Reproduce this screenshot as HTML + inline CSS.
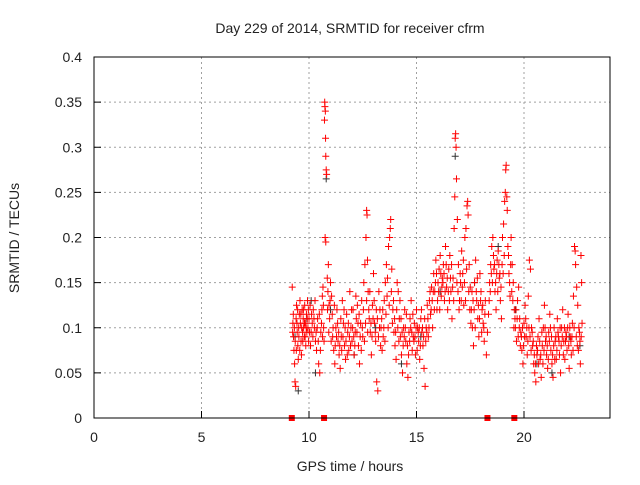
<!DOCTYPE html>
<html><head><meta charset="utf-8"><style>
body{margin:0;background:#fff}
svg text{font-family:"Liberation Sans",sans-serif;font-size:14px;fill:#222}
</style></head><body>
<svg id="chart" width="640" height="480" xmlns="http://www.w3.org/2000/svg">
<rect width="640" height="480" fill="#fff"/>
<text x="350" y="33" text-anchor="middle">Day 229 of 2014, SRMTID for receiver cfrm</text>
<g id="grid"></g>
<g id="ticks"></g>
<g id="marks"></g>
<rect x="94" y="57" width="516" height="361" fill="none" stroke="#000" stroke-width="1"/>
<text x="350" y="471" text-anchor="middle">GPS time / hours</text>
<text x="0" y="0" transform="translate(19,238) rotate(-90)" text-anchor="middle">SRMTID / TECUs</text>
</svg>
<script>
const xTicks=[0,5,10,15,20];
const yTicks=[0,0.05,0.1,0.15,0.2,0.25,0.3,0.35,0.4];
const yTickLabels=["0","0.05","0.1","0.15","0.2","0.25","0.3","0.35","0.4"];
const gapTimes=[9.2,10.7,18.3,19.55];
const blackPoints=[[9.35,0.09],[9.5,0.03],[9.9,0.11],[10.1,0.13],[10.3,0.05],[10.8,0.265],[11.0,0.12],[12.1,0.07],[13.1,0.1],[14.3,0.06],[15.2,0.09],[16.1,0.14],[16.8,0.29],[17.7,0.15],[18.8,0.19],[19.6,0.12],[20.6,0.06],[21.3,0.05],[22.1,0.09],[22.6,0.08]];
const redPoints=[
[9.22,0.145],[9.25,0.105],[9.28,0.09],[9.3,0.075],[9.33,0.06],[9.35,0.04],[9.38,0.035],[9.4,0.11],[9.42,0.125],[9.45,0.095],[9.48,0.08],[9.5,0.065],[9.52,0.1],[9.55,0.115],[9.58,0.13],[9.6,0.105],[9.63,0.085],[9.65,0.07],[9.68,0.12],[9.7,0.095],[9.73,0.11],[9.75,0.1],[9.78,0.09],[9.8,0.125],[9.83,0.105],[9.85,0.08],[9.88,0.115],[9.9,0.095],[9.93,0.13],[9.95,0.1],[9.98,0.085],[10.0,0.11],[10.05,0.125],[10.1,0.095],[10.15,0.105],[10.2,0.12],[10.25,0.1],[10.3,0.085],[10.35,0.075],[10.4,0.11],[10.45,0.06],[10.5,0.05],[10.55,0.095],[10.6,0.12],[10.62,0.135],[10.65,0.145],[10.68,0.1],[10.7,0.085],
[10.72,0.33],[10.73,0.35],[10.74,0.345],[10.76,0.34],[10.77,0.31],[10.78,0.29],[10.8,0.275],[10.82,0.27],[10.75,0.2],[10.78,0.195],[10.85,0.155],[10.88,0.14],[10.9,0.17],[10.93,0.125],[10.96,0.11],[11.0,0.15],[11.05,0.135],[11.1,0.09],[11.15,0.075],[11.2,0.06],[11.25,0.1],[11.3,0.12],[11.35,0.085],[11.4,0.07],[11.45,0.055],[11.5,0.09],[11.55,0.13],[11.6,0.105],[11.65,0.08],[11.7,0.065],[11.75,0.115],[11.8,0.095],[11.85,0.075],[11.9,0.14],[11.95,0.1],[12.0,0.085],[12.05,0.12],[12.1,0.07],[12.15,0.095],[12.2,0.11],[12.25,0.125],[12.3,0.08],[12.35,0.06],[12.4,0.105],[12.45,0.13],[12.5,0.09],[12.55,0.15],[12.6,0.17],[12.65,0.2],[12.68,0.23],[12.7,0.225],[12.72,0.175],[12.75,0.14],[12.8,0.11],[12.85,0.095],[12.9,0.07],[12.95,0.125],[13.0,0.16],[13.05,0.105],[13.1,0.085],[13.15,0.04],[13.2,0.03],[13.25,0.14],[13.3,0.12],[13.35,0.1],[13.4,0.075],[13.45,0.09],[13.5,0.13],[13.55,0.15],[13.6,0.17],[13.65,0.155],[13.7,0.19],[13.75,0.2],[13.78,0.21],[13.8,0.22],[13.85,0.165],[13.9,0.12],[13.95,0.095],[14.0,0.08],[14.05,0.065],[14.1,0.15],[14.15,0.14],[14.2,0.11],[14.25,0.09],[14.3,0.07],[14.35,0.05],[14.4,0.1],[14.45,0.12],[14.5,0.085],[14.55,0.06],[14.6,0.045],[14.65,0.095],[14.7,0.11],[14.75,0.13],[14.8,0.075],[14.85,0.09],[14.9,0.105],[14.95,0.07],[15.0,0.12],[15.05,0.1],[15.1,0.085],[15.15,0.065],[15.2,0.11],[15.25,0.095],[15.3,0.08],[15.35,0.055],[15.4,0.035],[15.45,0.1],[15.5,0.125],[15.55,0.09],[15.6,0.13],[15.65,0.115],[15.7,0.145],[15.75,0.1],[15.8,0.16],[15.85,0.14],[15.9,0.175],[15.95,0.12],[16.0,0.15],[16.05,0.165],[16.1,0.18],[16.15,0.135],[16.2,0.155],[16.25,0.17],[16.3,0.13],[16.35,0.19],[16.4,0.145],[16.45,0.12],[16.5,0.165],[16.55,0.18],[16.6,0.14],[16.65,0.11],[16.7,0.155],[16.75,0.21],[16.78,0.245],[16.8,0.31],[16.82,0.315],[16.84,0.3],[16.86,0.265],[16.9,0.22],[16.95,0.17],[17.0,0.13],[17.05,0.15],[17.1,0.185],[17.15,0.16],[17.2,0.125],[17.25,0.2],[17.3,0.21],[17.35,0.235],[17.38,0.24],[17.4,0.225],[17.45,0.17],[17.5,0.145],[17.55,0.12],[17.6,0.1],[17.65,0.08],[17.7,0.15],[17.75,0.175],[17.8,0.13],[17.85,0.11],[17.9,0.09],[17.95,0.16],[18.0,0.14],[18.05,0.12],[18.1,0.105],[18.15,0.085],[18.2,0.13],[18.25,0.07],[18.3,0.095],[18.35,0.115],[18.4,0.15],[18.45,0.17],[18.5,0.19],[18.55,0.2],[18.6,0.165],[18.65,0.14],[18.7,0.12],[18.75,0.175],[18.8,0.185],[18.85,0.155],[18.9,0.13],[18.95,0.11],[19.0,0.2],[19.05,0.215],[19.1,0.24],[19.13,0.25],[19.15,0.275],[19.17,0.28],[19.2,0.245],[19.22,0.23],[19.25,0.19],[19.3,0.16],[19.35,0.135],[19.4,0.2],[19.45,0.17],[19.5,0.15],[19.55,0.12],[19.6,0.1],[19.65,0.085],[19.7,0.13],[19.75,0.145],[19.8,0.11],[19.85,0.095],[19.9,0.075],[19.95,0.06],[20.0,0.105],[20.05,0.125],[20.1,0.09],[20.15,0.07],[20.2,0.135],[20.25,0.175],[20.3,0.165],[20.35,0.1],[20.4,0.08],[20.45,0.06],[20.5,0.05],[20.55,0.04],[20.6,0.07],[20.65,0.09],[20.7,0.11],[20.75,0.065],[20.8,0.045],[20.85,0.08],[20.9,0.1],[20.95,0.125],[21.0,0.085],[21.05,0.07],[21.1,0.055],[21.15,0.095],[21.2,0.115],[21.25,0.075],[21.3,0.06],[21.35,0.045],[21.4,0.1],[21.45,0.085],[21.5,0.065],[21.55,0.11],[21.6,0.09],[21.65,0.07],[21.7,0.05],[21.75,0.1],[21.8,0.12],[21.85,0.085],[21.9,0.065],[21.95,0.095],[22.0,0.075],[22.05,0.115],[22.1,0.055],[22.15,0.09],[22.2,0.07],[22.25,0.105],[22.3,0.135],[22.35,0.19],[22.38,0.185],[22.4,0.17],[22.45,0.145],[22.5,0.125],[22.55,0.1],[22.6,0.085],[22.62,0.06],[22.65,0.18],[22.68,0.15],[22.7,0.105]
];
const redPointsExtra=[
[9.24,0.095],[9.27,0.115],[9.32,0.1],[9.36,0.085],[9.41,0.075],[9.44,0.105],[9.47,0.12],[9.53,0.09],[9.57,0.075],[9.62,0.115],[9.66,0.1],[9.71,0.085],[9.74,0.12],[9.79,0.105],[9.82,0.09],[9.87,0.1],[9.92,0.11],[9.97,0.12],[10.02,0.095],[10.07,0.08],[10.12,0.115],[10.18,0.09],[10.23,0.11],[10.28,0.13],[10.33,0.095],[10.38,0.1],[10.43,0.085],[10.48,0.115],[10.53,0.075],[10.58,0.105],[10.63,0.09],[10.67,0.125],
[10.86,0.12],[10.92,0.095],[10.98,0.13],[11.03,0.085],[11.08,0.115],[11.12,0.1],[11.18,0.125],[11.22,0.08],[11.28,0.09],[11.33,0.105],[11.38,0.095],[11.43,0.08],[11.48,0.11],[11.52,0.075],[11.58,0.09],[11.63,0.12],[11.68,0.1],[11.72,0.085],[11.78,0.07],[11.83,0.105],[11.88,0.09],[11.93,0.08],[11.98,0.12],[12.03,0.1],[12.08,0.09],[12.13,0.08],[12.18,0.135],[12.23,0.095],[12.28,0.105],[12.33,0.115],[12.38,0.09],[12.43,0.075],[12.48,0.1],[12.53,0.12],[12.58,0.085],[12.63,0.105],[12.68,0.13],[12.73,0.095],[12.78,0.12],[12.83,0.14],[12.88,0.105],[12.93,0.09],[12.98,0.11],[13.03,0.13],[13.08,0.095],[13.13,0.12],[13.18,0.11],[13.23,0.09],[13.28,0.1],[13.33,0.08],[13.38,0.11],[13.43,0.12],[13.48,0.1],[13.53,0.085],[13.58,0.115],[13.63,0.135],[13.68,0.1],[13.73,0.125],[13.83,0.14],[13.88,0.105],[13.93,0.13],[13.98,0.11],[14.03,0.095],[14.08,0.12],[14.13,0.1],[14.18,0.085],[14.23,0.13],[14.28,0.11],[14.33,0.095],[14.38,0.08],[14.43,0.09],[14.48,0.1],[14.53,0.115],[14.58,0.08],[14.63,0.07],[14.68,0.085],[14.73,0.1],[14.78,0.095],[14.83,0.115],[14.88,0.085],[14.93,0.09],[14.98,0.1],[15.03,0.075],[15.08,0.095],[15.13,0.1],[15.18,0.08],[15.23,0.12],[15.28,0.1],[15.33,0.09],[15.38,0.11],[15.43,0.085],[15.48,0.095],[15.53,0.11],[15.58,0.1],[15.63,0.14],[15.68,0.12],[15.73,0.13],[15.78,0.14],[15.83,0.12],[15.88,0.15],[15.93,0.16],[15.98,0.13],[16.03,0.14],[16.08,0.12],[16.13,0.16],[16.18,0.145],[16.23,0.15],[16.28,0.16],[16.33,0.14],[16.38,0.17],[16.43,0.155],[16.48,0.14],[16.53,0.13],[16.58,0.155],[16.63,0.17],[16.68,0.145],[16.73,0.13],[16.88,0.15],[16.93,0.14],[16.98,0.12],[17.03,0.16],[17.08,0.13],[17.13,0.145],[17.18,0.175],[17.23,0.15],[17.28,0.13],[17.33,0.165],[17.43,0.14],[17.48,0.12],[17.53,0.105],[17.58,0.14],[17.63,0.13],[17.68,0.12],[17.73,0.1],[17.78,0.14],[17.83,0.155],[17.88,0.125],[17.93,0.11],[17.98,0.13],[18.03,0.095],[18.08,0.125],[18.13,0.1],[18.18,0.115],[18.38,0.13],[18.43,0.14],[18.48,0.16],[18.53,0.15],[18.58,0.18],[18.63,0.17],[18.68,0.15],[18.73,0.16],[18.78,0.14],[18.83,0.17],[18.88,0.16],[18.93,0.145],[18.98,0.17],[19.03,0.16],[19.08,0.18],[19.28,0.18],[19.33,0.15],[19.38,0.17],[19.43,0.14],[19.48,0.13],[19.53,0.1],[19.58,0.11],[19.63,0.12],[19.68,0.11],[19.73,0.09],[19.78,0.1],[19.83,0.08],[19.88,0.09],[19.93,0.1],[19.98,0.08],[20.03,0.09],[20.08,0.11],[20.13,0.1],[20.18,0.085],[20.23,0.1],[20.28,0.09],[20.33,0.075],[20.38,0.095],[20.43,0.085],[20.48,0.07],[20.53,0.06],[20.58,0.08],[20.63,0.075],[20.68,0.06],[20.73,0.085],[20.78,0.07],[20.83,0.095],[20.88,0.06],[20.93,0.075],[20.98,0.1],[21.03,0.09],[21.08,0.08],[21.13,0.065],[21.18,0.085],[21.23,0.1],[21.28,0.09],[21.33,0.07],[21.38,0.08],[21.43,0.065],[21.48,0.09],[21.53,0.075],[21.58,0.095],[21.63,0.085],[21.68,0.1],[21.73,0.08],[21.78,0.09],[21.83,0.07],[21.88,0.1],[21.93,0.085],[21.98,0.09],[22.03,0.1],[22.08,0.08],[22.13,0.1],[22.18,0.085],[22.23,0.09],[22.28,0.075],[22.33,0.1],[22.43,0.09],[22.48,0.08],[22.53,0.075],[22.58,0.095],[22.66,0.09]
];
const X=t=>94+t*(516/24);
const Y=v=>418-v*(361/0.4);
const NS="http://www.w3.org/2000/svg";
function mk(tag,attrs,parent){const e=document.createElementNS(NS,tag);for(const k in attrs)e.setAttribute(k,attrs[k]);parent.appendChild(e);return e;}
const grid=document.getElementById('grid'),ticks=document.getElementById('ticks'),marks=document.getElementById('marks');
xTicks.forEach(t=>{
  if(t>0){const g=mk('line',{x1:X(t),x2:X(t),y1:57,y2:418,stroke:'#a0a0a0','stroke-dasharray':'2,3'},grid);
  
  }
  const tl=mk('line',{x1:X(t),x2:X(t),y1:418,y2:411,stroke:'#000'},ticks);
  
  
  const tx=mk('text',{x:X(t),y:442,'text-anchor':'middle'},ticks);tx.textContent=t;
  
  
});
yTicks.forEach((v,i)=>{
  if(v>0&&v<0.4){const g=mk('line',{x1:94,x2:610,y1:Y(v),y2:Y(v),stroke:'#a0a0a0','stroke-dasharray':'2,3'},grid);
  
  }
  const tl=mk('line',{x1:94,x2:101,y1:Y(v),y2:Y(v),stroke:'#000'},ticks);
  
  
  const tx=mk('text',{x:82,y:Y(v)+5,'text-anchor':'end'},ticks);tx.textContent=yTickLabels[i];
  
  
});
function plus(p,color,name){
  const x=X(p[0]),y=Y(p[1]);
  const e=mk('path',{d:`M${x-3.5},${y}h7M${x},${y-3.5}v7`,stroke:color,'stroke-width':1,fill:'none'},marks);
  
  
}
blackPoints.forEach(p=>plus(p,'#333','black-point'));
redPoints.forEach(p=>plus(p,'#ff0000','red-point'));
redPointsExtra.forEach(p=>plus(p,'#ff0000','red-point'));
gapTimes.forEach(t=>{
  const r=mk('rect',{x:X(t)-3,y:415,width:6,height:6,fill:'#ff0000'},marks);
  
  
});
</script>
</body></html>
